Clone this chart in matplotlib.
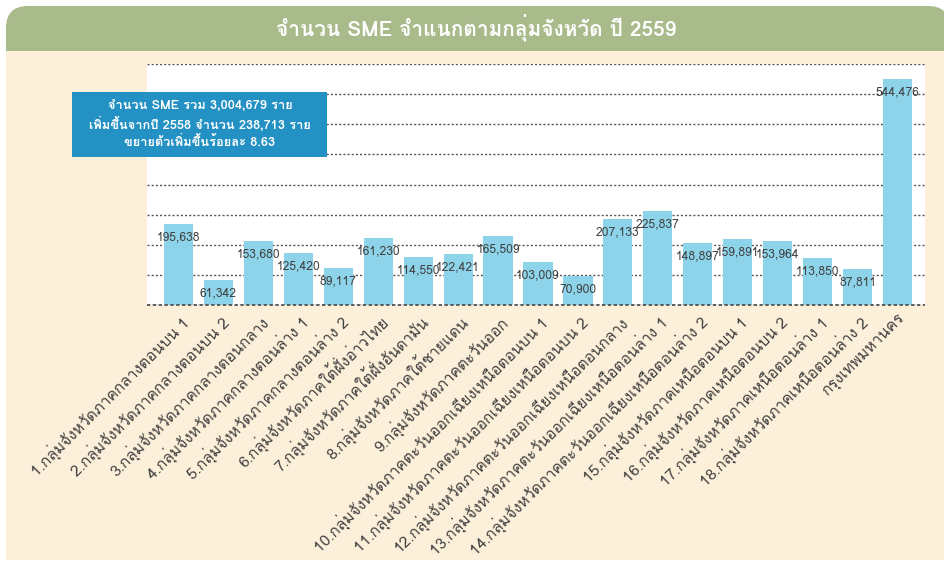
import matplotlib
matplotlib.use('Agg')
import matplotlib.pyplot as plt
import numpy as np
from matplotlib import font_manager
from matplotlib.ft2font import FT2Font
from matplotlib.patches import FancyBboxPatch, Rectangle

# data
groups = ['1.กลุ่มจังหวัดภาคกลางตอนบน 1', '2.กลุ่มจังหวัดภาคกลางตอนบน 2',
          '3.กลุ่มจังหวัดภาคกลางตอนกลาง', '4.กลุ่มจังหวัดภาคกลางตอนล่าง 1',
          '5.กลุ่มจังหวัดภาคกลางตอนล่าง 2', '6.กลุ่มจังหวัดภาคใต้ฝั่งอ่าวไทย',
          '7.กลุ่มจังหวัดภาคใต้ฝั่งอันดามัน', '8.กลุ่มจังหวัดภาคใต้ชายแดน',
          '9.กลุ่มจังหวัดภาคตะวันออก',
          '10.กลุ่มจังหวัดภาคตะวันออกเฉียงเหนือตอนบน 1',
          '11.กลุ่มจังหวัดภาคตะวันออกเฉียงเหนือตอนบน 2',
          '12.กลุ่มจังหวัดภาคตะวันออกเฉียงเหนือตอนกลาง',
          '13.กลุ่มจังหวัดภาคตะวันออกเฉียงเหนือตอนล่าง 1',
          '14.กลุ่มจังหวัดภาคตะวันออกเฉียงเหนือตอนล่าง 2',
          '15.กลุ่มจังหวัดภาคเหนือตอนบน 1', '16.กลุ่มจังหวัดภาคเหนือตอนบน 2',
          '17.กลุ่มจังหวัดภาคเหนือตอนล่าง 1', '18.กลุ่มจังหวัดภาคเหนือตอนล่าง 2',
          'กรุงเทพมหานคร']
sme_count = [195638, 61342, 153680, 125420, 89117, 161230, 114550, 122421,
             165509, 103009, 70900, 207133, 225837, 148897, 159891, 153964,
             113850, 87811, 544476]

title = 'จำนวน SME จำแนกตามกลุ่มจังหวัด ปี 2559'
note = ['จำนวน SME รวม 3,004,679 ราย',
        'เพิ่มขึ้นจากปี 2558 จำนวน 238,713 ราย',
        'ขยายตัวเพิ่มขึ้นร้อยละ 8.63']


def thai_font():
    for f in font_manager.fontManager.ttflist:
        try:
            cmap = FT2Font(f.fname).get_charmap()
        except Exception:
            continue
        if 0x0E01 in cmap:
            return f.name
    return 'DejaVu Sans'


plt.rcParams['font.family'] = [thai_font(), 'DejaVu Sans']

W, H = 944, 562
fig = plt.figure(figsize=(W / 100, H / 100), dpi=100)

# background panel in pixel coords
bg = fig.add_axes([0, 0, 1, 1], zorder=0)
bg.set_xlim(0, W)
bg.set_ylim(H, 0)
bg.axis('off')
bg.add_patch(FancyBboxPatch((6, 6), W, 80, boxstyle='round,pad=0,rounding_size=22',
                            fc='#aabb8b', ec='none'))
bg.add_patch(Rectangle((6, 51), W, 509, fc='#fdf0da', ec='none'))
bg.text(476, 28, title, color='white', fontsize=15, fontweight='bold',
        ha='center', va='center')

ax = fig.add_axes([147 / W, 1 - 305 / H, (925 - 147) / W, (305 - 64) / H], zorder=1)
ax.set_facecolor('white')
x = np.arange(len(groups))
ax.bar(x, sme_count, width=0.73, color='#8dd4ea', zorder=2)
for xi, v in zip(x, sme_count):
    ax.annotate(f'{v:,}', (xi, v), xytext=(0, -9.5), textcoords='offset points',
                ha='center', va='center', fontsize=8.7, color='#404040', zorder=3)

ax.set_xlim(-0.79, 18.69)
ax.set_ylim(0, 580000)
ax.set_yticks(np.arange(0, 580001, 72500))
ax.set_yticklabels([])
ax.tick_params(axis='y', length=0)
ax.grid(axis='y', color='#555555', linestyle=(0, (1.5, 1.5)), linewidth=1)
ax.set_axisbelow(True)
ax.axhline(0, color='#444444', linestyle=(0, (2, 1.5)), linewidth=1.2, zorder=3,
           clip_on=False)
for s in ax.spines.values():
    s.set_visible(False)
ax.set_xticks(x)
ax.set_xticklabels(groups, rotation=45, ha='right', rotation_mode='anchor',
                   fontsize=11.2, color='#404040')
ax.tick_params(axis='x', length=0, pad=5)

# note box
fig.add_artist(Rectangle((72 / W, 1 - 157 / H), (327 - 72) / W, 65 / H,
                         transform=fig.transFigure, fc='#2391c3', ec='none', zorder=5))
for i, line in enumerate(note):
    fig.text(200 / W, 1 - (105 + 18.5 * i) / H, line, color='white', fontsize=9.2,
             fontweight='bold', ha='center', va='center', zorder=6)

fig.savefig('out.png', dpi=100)
